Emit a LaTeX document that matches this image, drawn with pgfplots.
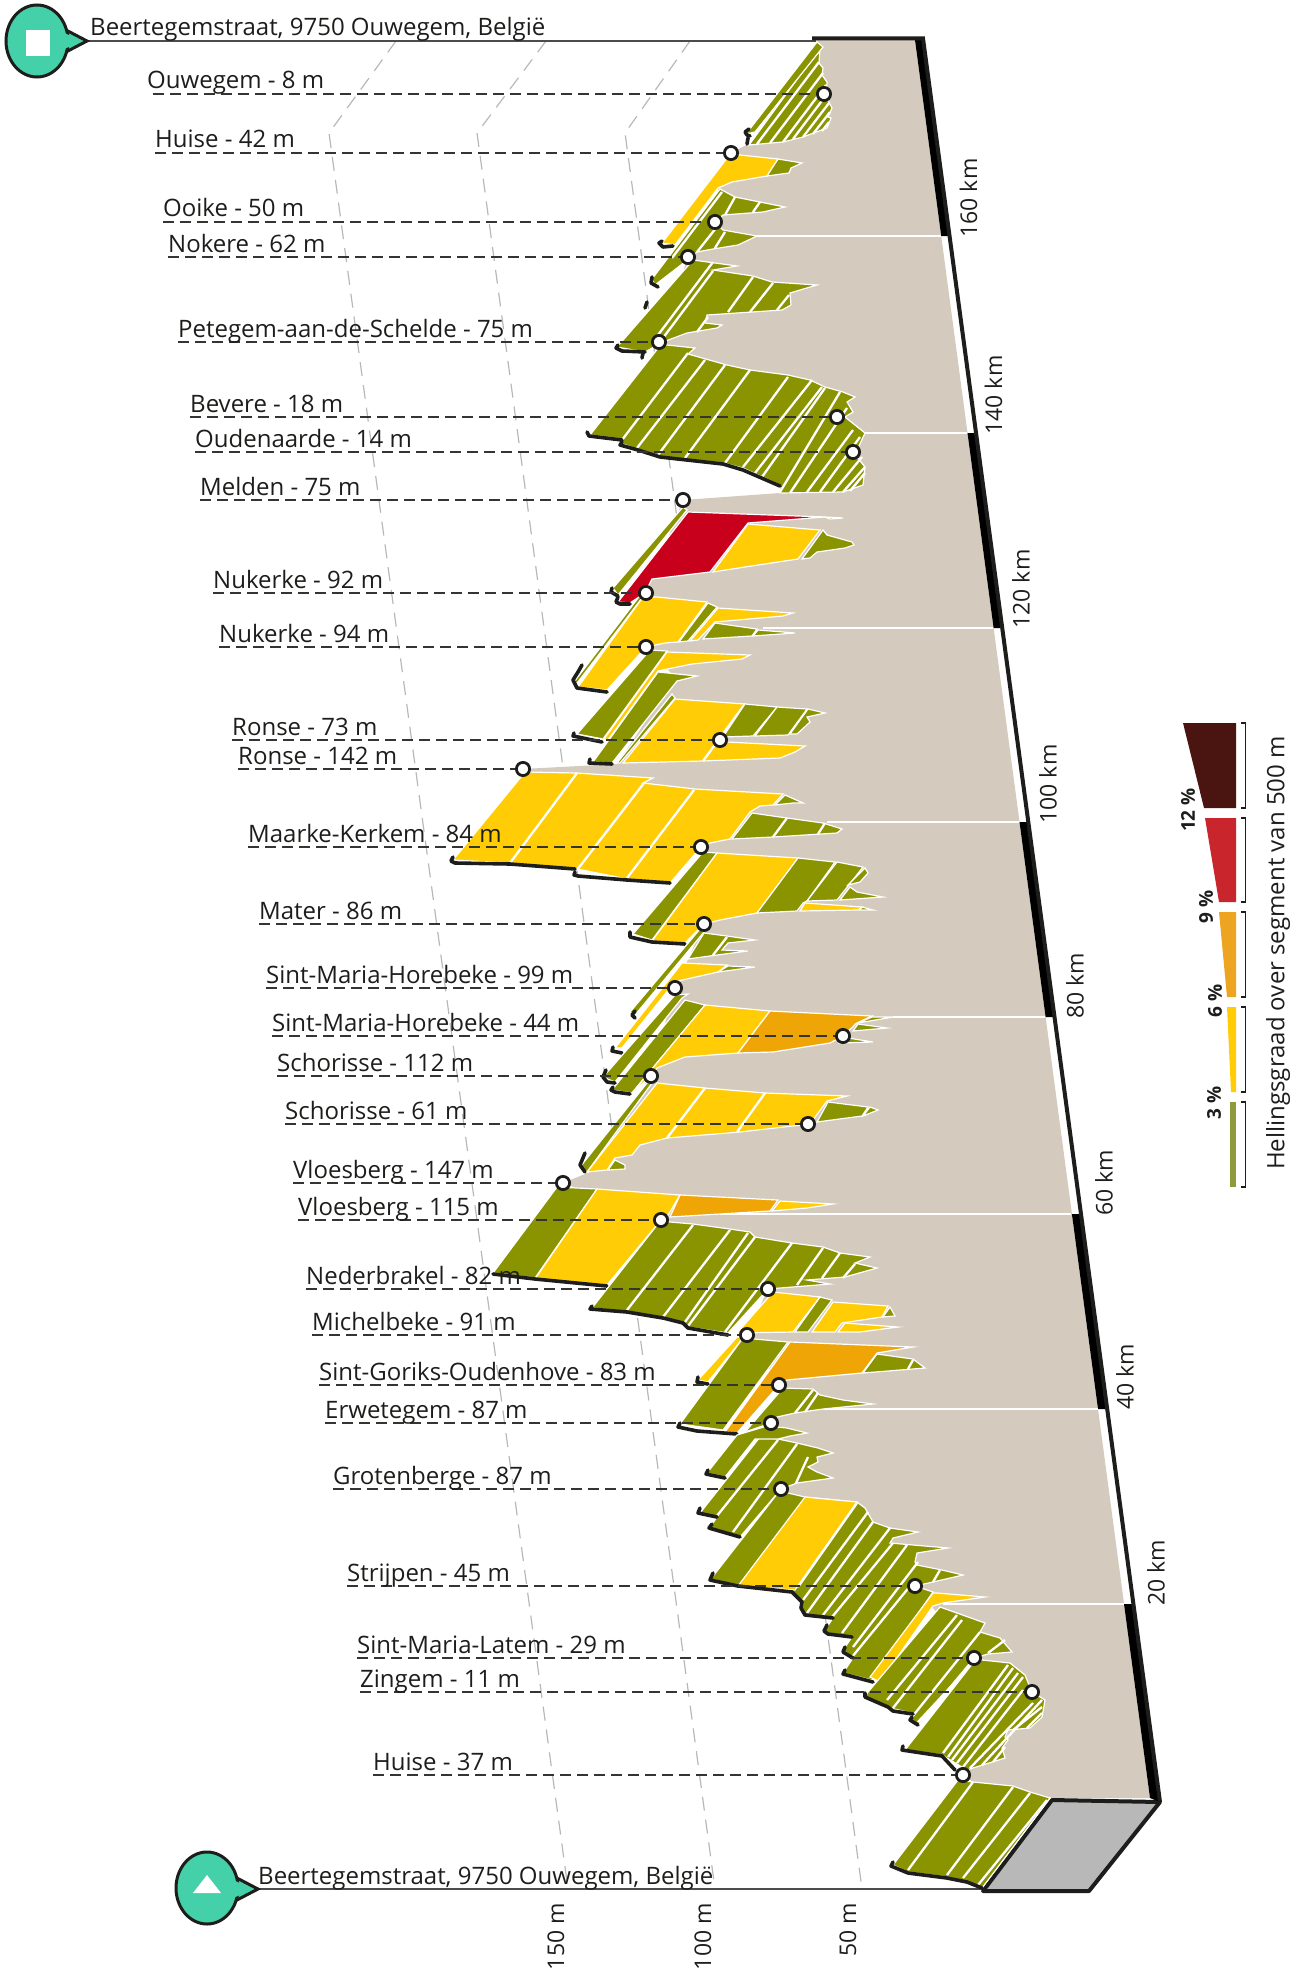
\documentclass[border=0pt]{standalone}
\usepackage{pgfplots}
\usepackage{fontspec}
\setmainfont{Open Sans}
\pgfplotsset{compat=1.18}
\definecolor{ol}{HTML}{8A9400}
\definecolor{ye}{HTML}{FFCC05}
\definecolor{ora}{HTML}{F0A507}
\definecolor{rd}{HTML}{C8001B}
\definecolor{beige}{HTML}{D4CABE}
\definecolor{teal2}{HTML}{44D0A8}
\definecolor{ink}{HTML}{1D1D1B}
\definecolor{lgdark}{HTML}{4A1410}
\definecolor{lgred}{HTML}{C9252C}
\definecolor{lgora}{HTML}{EDA421}
\definecolor{lgol}{HTML}{8F9A3A}
\newcommand{\pg}[2]{\addplot[fill=#1,draw=white,line width=1.2pt] coordinates {#2} -- cycle;}
\newcommand{\wl}[1]{\addplot[white,line width=2.3pt] coordinates {#1};}
\newcommand{\bk}[1]{\addplot[ink,line width=3.6pt,line cap=round,line join=round] coordinates {#1};}
\newcommand{\lab}[4]{\addplot[ink!90,line width=1.6pt,dash pattern=on 11pt off 6pt] coordinates {(#1,#2)(#3,#2)};
  \node[anchor=base west,font=\labelfont,yshift=5pt,inner sep=0pt,text=ink] at (axis cs:#1,#2) {#4};}
\newcommand{\labelfont}{\fontsize{24}{27}\selectfont}
\newcommand{\rotfont}{\fontsize{23}{26}\selectfont}
\newcommand{\kmlab}[3]{\node[rotate=90,font=\rotfont,text=ink,inner sep=0pt] at (axis cs:#1,#2) {#3};}
\begin{document}
\begin{tikzpicture}
\path[use as bounding box] (0,0) rectangle (1306pt,1972pt);
\begin{axis}[at={(0,0)},anchor=south west,scale only axis,width=1306pt,height=1972pt,
  xmin=0,xmax=1306,ymin=0,ymax=1972,y dir=reverse,hide axis,clip=false]
% elevation guide lines
\addplot[black!28,line width=1.2pt,dash pattern=on 14pt off 9pt] coordinates {(396,41)(329,133)(568,1889)};
\addplot[black!28,line width=1.2pt,dash pattern=on 14pt off 9pt] coordinates {(546,41)(477,133)(715,1889)};
\addplot[black!28,line width=1.2pt,dash pattern=on 14pt off 9pt] coordinates {(690,41)(625,133)(862,1889)};
% base lines
\addplot[black!70,line width=1.6pt] coordinates {(85,41)(816,41)};
\addplot[black!70,line width=1.6pt] coordinates {(250,1889)(985,1889)};
% body
\addplot[fill=beige,draw=none] coordinates {(816,40)(915,40)(1150,1798)(1052,1798)(973,1782)(963,1775)(960,1765)(974,1658)(915,1586)(781,1489)(771,1423)(779,1385)(747,1335)(768,1289)(661,1220)(563,1183)(590,1172)(650,1076)(675,988)(704,924)(701,847)(523,769)(617,764)(660,700)(670,672)(646,647)(646,593)(683,500)(780,493)(853,452)(659,342)(688,257)(715,222)(718,188)(731,153)(752,142)(818,45)} -- cycle;
% gray foot
\addplot[fill=black!28,draw=ink,line width=4pt,line join=round] coordinates {(1052,1800)(1160,1802)(1089,1891)(983,1891)} -- cycle;
% km band
\addplot[fill=black,draw=none] coordinates {(915,40)(941.2,236)(949.6,236)(923.3,40)} -- cycle;
\addplot[fill=black,draw=none] coordinates {(967.5,433)(993.6,628)(1002.3,628)(976.1,433)} -- cycle;
\addplot[fill=black,draw=none] coordinates {(1019.5,822)(1045.6,1017)(1054.5,1017)(1028.3,822)} -- cycle;
\addplot[fill=black,draw=none] coordinates {(1071.9,1214)(1098,1409)(1107.2,1409)(1081,1214)} -- cycle;
\addplot[fill=black,draw=none] coordinates {(1124,1604)(1150,1798)(1160,1802)(1133.4,1604)} -- cycle;
\addplot[ink,line width=4pt] coordinates {(812,38.5)(923,38.5)(1160,1802)};
% km white lines
\wl{(757,236)(941,236)}
\wl{(865,433)(967,433)}
\wl{(763,628)(993,628)}
\wl{(827,822)(1019,822)}
\wl{(893,1017)(1045,1017)}
\wl{(720,1214)(1071,1214)}
\wl{(823,1409)(1098,1409)}
\wl{(943,1604)(1124,1604)}
% ridge A
\pg{ol}{(820,48)(819,63)(823,68)(822,75)(827,82)(826,97)(832,108)(828,117)(831,118)(827,128)(803,137)(783,142)(749,145)}
\wl{(757,144)(819,62)}\wl{(770,143)(823,73)}\wl{(783,142)(826,85)}\wl{(793,139)(827,94)}\wl{(803,137)(829,103)}\wl{(813,134)(830,112)}\wl{(822,131)(829,122)}
\pg{ol}{(817,42)(823,47)(755,132)(746,134)}
\bk{(749,129)(745,132)(747,135)(750,136)}\bk{(748,138)(747,144)}
% ridge B
\pg{ye}{(731,153)(740,155)(778,159)(767,176)(732,182)(718,188)(675,245)(662,243)}
\pg{ol}{(778,159)(802,163)(791,168)(789,173)(767,176)}
\bk{(662,241)(659,243)(663,247)(673,246)}
% ridge C
\pg{ol}{(720,189)(735,197)(760,202)(785,207)(763,212)(723,215)(715,222)(723,230)(757,236)(738,245)(713,249)(697,252)(690,258)(655,285)(652,279)}
\wl{(725,215)(735,197)}\wl{(753,212)(760,202)}\wl{(715,248)(725,232)}\wl{(697,252)(720,223)}\wl{(722,192)(672,258)}
\bk{(652,277)(651,283)(658,287)}
% ridge D
\pg{ol}{(693,260)(737,266)(713,270)(753,276)(772,282)(817,285)(790,293)(791,305)(782,310)(707,315)(705,323)(722,325)(717,328)(687,333)(663,342)(645,352)(617,347)}
\wl{(713,262)(652,343)}\wl{(713,271)(663,338)}\wl{(753,277)(728,312)}\wl{(773,283)(750,312)}\wl{(789,295)(777,310)}\wl{(708,317)(697,332)}
\bk{(618,345)(616,348)(622,351)(645,352)}\bk{(647,302)(645,308)}\bk{(643,353)(642,358)}
% ridge E
\pg{ol}{(659,347)(667,345)(695,348)(688,354)(727,365)(750,370)(788,375)(810,380)(825,387)(843,392)(855,397)(847,402)(853,412)(845,417)(865,433)(858,448)(853,452)(865,467)(863,485)(843,492)(780,493)(780,485)(743,468)(723,463)(660,457)(620,443)(622,439)(590,435)}
\wl{(622,440)(688,353)}\wl{(637,448)(705,360)}\wl{(658,455)(725,365)}\wl{(685,458)(750,370)}\wl{(725,463)(788,377)}\wl{(743,467)(812,380)}\wl{(755,473)(822,387)}\wl{(762,477)(825,388)}\wl{(780,492)(840,392)}\wl{(790,493)(847,408)}\wl{(807,492)(853,430)}\wl{(820,492)(860,437)}\wl{(833,492)(862,457)}\wl{(843,492)(865,467)}\wl{(850,491)(865,473)}
\bk{(587,432)(589,436)(622,440)}\bk{(622,442)(620,445)(638,450)(660,457)(723,464)(743,470)(780,486)}
% ridge F
\pg{ol}{(683,507)(687,510)(618,595)(613,588)}
\pg{rd}{(688,512)(825,517)(748,523)(710,572)(652,579)(645,593)(630,603)(618,602)}
\pg{ol}{(825,517)(843,518)(830,519)}
\pg{ye}{(748,524)(820,530)(798,559)(745,567)(713,572)}
\pg{ol}{(823,530)(827,535)(852,542)(854,545)(845,548)(817,552)(810,558)(802,559)}
\bk{(612,588)(611,592)(618,596)}\bk{(618,597)(616,602)(620,604)(630,604)}
% ridge G
\pg{ye}{(643,597)(657,597)(707,602)(678,642)(665,643)(646,647)(607,690)(578,687)}
\pg{ol}{(708,603)(717,607)(688,641)(679,642)}
\pg{ye}{(718,608)(793,613)(783,616)(715,622)(698,640)(690,641)}
\pg{ol}{(715,623)(757,629)(752,636)(703,639)}
\pg{ol}{(758,630)(795,633)(753,636)}
\addplot[ol,line width=1.6pt] coordinates {(640,598)(576,682)};
\bk{(582,665)(578,672)(573,680)(577,688)(607,692)}
% ridge H
\pg{ol}{(650,650)(667,651)(603,739)(577,734)}
\pg{ye}{(667,652)(750,655)(742,659)(692,664)(658,671)(608,740)(604,739)}
\bk{(574,733)(573,736)(578,737)(602,742)}
% ridge I
\pg{ol}{(658,672)(697,676)(677,681)(612,763)(593,762)}
\bk{(590,759)(589,763)(612,764)}
% ridge J
\pg{ol}{(672,694)(675,698)(620,763)(617,763)}
\pg{ye}{(675,699)(745,704)(722,737)(720,740)(727,742)(805,746)(795,752)(780,758)(703,761)(623,763)}
\wl{(745,704)(703,761)}
\pg{ol}{(745,704)(777,707)(753,736)(723,737)}
\pg{ol}{(777,707)(807,709)(788,735)(755,736)}
\pg{ol}{(808,709)(825,713)(807,717)(810,722)(797,734)(790,734)}
% ridge K
\pg{ye}{(525,772)(577,773)(653,778)(643,783)(695,789)(783,794)(773,805)(760,806)(750,812)(730,839)(710,843)(701,847)(670,883)(627,879)(577,869)(510,863)(453,860)}
\wl{(577,773)(510,863)}\wl{(644,783)(577,870)}\wl{(694,790)(627,878)}
\pg{ol}{(785,795)(794,799)(803,803)(793,803)(775,805)}
\pg{ol}{(752,813)(787,818)(823,823)(842,829)(837,833)(773,837)(732,839)}
\wl{(787,818)(773,837)}\wl{(825,823)(818,834)}
\bk{(453,857)(451,861)(455,863)(510,864)(575,869)}\bk{(575,872)(574,875)(578,876)(627,880)(670,883)}
% ridge L
\pg{ol}{(703,852)(717,853)(652,940)(633,934)}
\pg{ye}{(717,853)(798,858)(757,913)(720,920)(704,924)(685,943)(652,941)}
\pg{ol}{(798,858)(835,862)(807,901)(803,903)(797,911)(757,913)}
\pg{ol}{(837,862)(863,867)(837,900)(807,901)}
\pg{ol}{(865,868)(868,873)(860,882)(848,885)}
\pg{ol}{(850,887)(857,892)(883,897)(840,900)}
\pg{ye}{(805,903)(862,907)(858,910)(800,911)}
\pg{ol}{(862,907)(873,910)(860,910)}
\bk{(630,932)(630,937)(652,942)(685,944)}
% ridge M
\pg{ol}{(700,929)(704,932)(635,1015)(630,1012)}
\pg{ol}{(704,933)(727,936)(755,940)(728,943)(722,950)(748,951)(717,955)(688,959)}
\wl{(727,937)(713,955)}
\pg{ye}{(682,963)(727,965)(718,972)(678,981)(670,988)(622,1048)(615,1048)}
\pg{ol}{(728,966)(755,967)(718,972)}
\bk{(635,1011)(632,1015)(635,1018)}\bk{(613,1047)(612,1051)(622,1053)}
% ridge N
\pg{ol}{(675,995)(688,994)(682,998)(615,1082)(603,1077)}
\pg{ol}{(685,1000)(705,1005)(632,1093)(612,1090)}
\pg{ye}{(705,1005)(770,1011)(738,1053)(685,1057)(657,1068)(651,1076)(632,1093)}
\pg{ora}{(770,1011)(872,1016)(857,1023)(843,1036)(830,1043)(773,1052)(738,1053)}
\pg{ol}{(872,1017)(893,1017)(858,1023)}
\pg{ol}{(858,1024)(887,1028)(853,1031)}
\pg{ol}{(848,1038)(873,1042)(840,1043)}
\bk{(606,1070)(603,1077)(607,1082)(615,1083)}\bk{(613,1087)(611,1090)(615,1092)(630,1094)}
% ridge O
\pg{ol}{(647,1083)(652,1083)(587,1172)(580,1167)}
\pg{ye}{(657,1083)(705,1088)(765,1093)(847,1096)(827,1101)(810,1124)(740,1132)(667,1138)(640,1145)(632,1155)(615,1158)(607,1170)(587,1172)}
\wl{(705,1088)(667,1138)}\wl{(765,1093)(737,1132)}
\pg{ol}{(828,1102)(868,1107)(862,1116)(817,1122)}
\pg{ol}{(870,1107)(878,1110)(863,1116)}
\pg{ol}{(615,1160)(625,1165)(625,1169)(608,1170)}
\bk{(585,1153)(580,1165)(585,1172)}
% ridge P
\pg{ol}{(557,1187)(597,1189)(535,1278)(493,1273)}
\pg{ye}{(597,1189)(680,1195)(667,1217)(661,1220)(607,1285)(535,1279)}
\pg{ora}{(680,1195)(778,1200)(770,1211)(670,1217)}
\pg{ye}{(780,1201)(833,1204)(807,1208)(772,1211)}
\bk{(493,1274)(535,1279)(607,1286)}
% ridge Q
\pg{ol}{(661,1220)(670,1222)(693,1224)(730,1229)(750,1232)(755,1237)(792,1243)(823,1247)(840,1253)(870,1257)(855,1263)(877,1268)(845,1277)(807,1280)(830,1284)(780,1288)(768,1289)(728,1333)(687,1327)(663,1318)(627,1312)(592,1308)}
\wl{(693,1225)(627,1310)}\wl{(730,1230)(663,1317)}\wl{(748,1233)(685,1322)}\wl{(755,1237)(688,1326)}\wl{(792,1243)(725,1332)}\wl{(823,1248)(797,1285)}\wl{(840,1253)(822,1278)}\wl{(855,1264)(843,1278)}
\bk{(592,1306)(590,1309)(627,1312)(663,1318)(683,1323)(688,1328)(728,1335)}
% ridge R
\pg{ye}{(773,1292)(820,1297)(793,1332)(737,1333)}
\pg{ol}{(820,1297)(832,1300)(808,1332)(795,1332)}
\pg{ye}{(833,1302)(888,1306)(882,1317)(842,1323)(835,1332)(812,1332)}
\pg{ye}{(845,1323)(898,1327)(860,1332)(838,1332)}
\pg{ol}{(890,1307)(895,1316)(883,1317)}
% ridge S
\pg{ye}{(737,1337)(743,1338)(708,1382)(698,1380)}
\pg{ol}{(743,1338)(788,1342)(723,1430)(680,1424)}
\pg{ora}{(790,1342)(913,1347)(877,1353)(862,1373)(787,1380)(779,1385)(737,1433)(725,1432)}
\pg{ol}{(877,1354)(913,1359)(925,1368)(863,1373)}
\wl{(913,1360)(908,1369)}
\bk{(698,1377)(697,1382)(708,1384)}\bk{(680,1423)(678,1427)(697,1431)(737,1434)}
% ridge T
\pg{ol}{(783,1388)(813,1389)(820,1395)(843,1400)(873,1404)(823,1409)(795,1413)(777,1417)(771,1423)(745,1432)}
\wl{(813,1390)(795,1413)}\wl{(818,1393)(805,1412)}
% ridge V
\pg{ol}{(778,1439)(797,1443)(818,1448)(833,1453)(817,1457)(818,1462)(808,1467)(817,1472)(833,1478)(797,1483)(781,1489)(740,1537)(710,1528)(713,1523)(717,1517)(700,1513)(760,1437)}
\wl{(716,1517)(778,1440)}\wl{(733,1532)(797,1444)}\wl{(808,1457)(796,1483)}
\bk{(700,1508)(698,1513)(717,1517)}\bk{(712,1524)(709,1528)(740,1537)}
% ridge U
\pg{ol}{(737,1435)(767,1426)(787,1428)(807,1433)(790,1436)(778,1439)(755,1439)(725,1477)(707,1473)}
\bk{(708,1470)(706,1474)(725,1478)}
% ridge W
\pg{ol}{(781,1489)(788,1493)(805,1497)(857,1502)(865,1508)(873,1522)(890,1528)(918,1532)(893,1538)(890,1543)(948,1548)(917,1553)(915,1562)(917,1565)(942,1570)(963,1575)(933,1582)(915,1586)(933,1592)(872,1680)(843,1673)(853,1658)(843,1650)(852,1637)(827,1633)(825,1630)(833,1618)(805,1615)(802,1610)(803,1603)(792,1592)(738,1586)(710,1580)}
\pg{ye}{(805,1497)(857,1502)(795,1590)(738,1586)}
\wl{(798,1587)(857,1503)}\wl{(803,1600)(868,1512)}\wl{(807,1613)(873,1522)}\wl{(823,1615)(890,1528)}\wl{(832,1617)(893,1543)}\wl{(842,1633)(907,1545)}\wl{(853,1647)(918,1562)}\wl{(852,1657)(915,1580)}\wl{(940,1570)(933,1582)}
\pg{ye}{(933,1593)(937,1593)(985,1597)(943,1603)(933,1606)(880,1682)(870,1677)}
\bk{(713,1573)(710,1580)(738,1586)(792,1592)(802,1602)(801,1608)(805,1615)(833,1618)}\bk{(827,1625)(824,1631)(828,1634)(852,1637)}\bk{(845,1647)(843,1652)(853,1658)}\bk{(845,1670)(843,1674)(873,1682)}
% ridge X
\pg{ol}{(940,1607)(985,1623)(980,1632)(1000,1638)(1012,1652)(988,1654)(974,1658)(918,1725)(910,1718)(912,1713)(890,1708)(865,1697)(868,1692)}
\wl{(887,1700)(957,1615)}\wl{(893,1708)(962,1620)}\wl{(912,1717)(980,1632)}\wl{(918,1722)(973,1663)}\wl{(988,1653)(1005,1640)}
\bk{(865,1693)(865,1697)(888,1707)(893,1711)(913,1714)}\bk{(912,1717)(910,1720)(918,1725)}
% ridge Y
\pg{ol}{(973,1663)(982,1660)(1010,1663)(1025,1675)(1032,1692)(1045,1700)(1042,1717)(1030,1728)(1008,1730)(1005,1737)(1008,1740)(1002,1748)(1005,1758)(973,1768)(967,1770)(942,1755)(905,1750)}
\wl{(943,1753)(1008,1665)}\wl{(948,1757)(1013,1668)}\wl{(952,1760)(1018,1673)}\wl{(957,1763)(1023,1677)}\wl{(963,1767)(1023,1690)}\wl{(970,1768)(1033,1703)}\wl{(982,1765)(1042,1700)}\wl{(993,1762)(1005,1747)}\wl{(1013,1730)(1042,1707)}\wl{(1027,1728)(1042,1713)}
\bk{(903,1746)(902,1750)(942,1756)(955,1770)}
% ridge Z
\pg{ol}{(958,1780)(973,1782)(1013,1786)(1030,1792)(1050,1798)(982,1888)(967,1882)(947,1877)(908,1872)(893,1865)}
\wl{(973,1782)(908,1870)}\wl{(1013,1787)(947,1875)}\wl{(1030,1793)(963,1878)}\wl{(1047,1800)(978,1885)}
\bk{(893,1862)(891,1866)(908,1873)(947,1878)(967,1882)(982,1888)}
% labels and leaders
\lab{153}{94}{824}{\hspace{-6pt}Ouwegem - 8 m}
\lab{155}{153}{731}{Huise - 42 m}
\lab{163}{222}{715}{Ooike - 50 m}
\lab{168}{257}{688}{Nokere - 62 m}
\lab{178}{342}{659}{Petegem-aan-de-Schelde - 75 m}
\lab{190}{417}{837}{Bevere - 18 m}
\lab{195}{452}{853}{Oudenaarde - 14 m}
\lab{200}{500}{683}{Melden - 75 m}
\lab{213}{593}{646}{Nukerke - 92 m}
\lab{219}{647}{646}{Nukerke - 94 m}
\lab{232}{740}{720}{Ronse - 73 m}
\lab{238}{769}{523}{Ronse - 142 m}
\lab{248}{847}{701}{Maarke-Kerkem - 84 m}
\lab{259}{924}{704}{Mater - 86 m}
\lab{266}{988}{675}{Sint-Maria-Horebeke - 99 m}
\lab{272}{1036}{843}{Sint-Maria-Horebeke - 44 m}
\lab{277}{1076}{651}{Schorisse - 112 m}
\lab{285}{1124}{808}{Schorisse - 61 m}
\lab{293}{1183}{563}{Vloesberg - 147 m}
\lab{298}{1220}{661}{Vloesberg - 115 m}
\lab{306}{1289}{768}{Nederbrakel - 82 m}
\lab{312}{1335}{747}{Michelbeke - 91 m}
\lab{319}{1385}{779}{Sint-Goriks-Oudenhove - 83 m}
\lab{325}{1423}{771}{Erwetegem - 87 m}
\lab{333}{1489}{781}{Grotenberge - 87 m}
\lab{347}{1586}{915}{Strijpen - 45 m}
\lab{357}{1658}{974}{Sint-Maria-Latem - 29 m}
\lab{360}{1692}{1032}{Zingem - 11 m}
\lab{373}{1775}{963}{Huise - 37 m}
\addplot[only marks,mark=*,mark size=6.6pt,mark options={fill=white,draw=ink,line width=2.8pt}] coordinates {(824,94)(731,153)(715,222)(688,257)(659,342)(837,417)(853,452)(683,500)(646,593)(646,647)(720,740)(523,769)(701,847)(704,924)(675,988)(843,1036)(651,1076)(808,1124)(563,1183)(661,1220)(768,1289)(747,1335)(779,1385)(771,1423)(781,1489)(915,1586)(974,1658)(1032,1692)(963,1775)};
% start and end text
\node[anchor=base west,font=\labelfont,yshift=5pt,inner sep=0pt,text=ink] at (axis cs:90,41) {Beertegemstraat, 9750 Ouwegem, België};
\node[anchor=base west,font=\labelfont,yshift=5pt,inner sep=0pt,text=ink] at (axis cs:258,1889) {Beertegemstraat, 9750 Ouwegem, België};
% pins
\draw[fill=teal2,draw=ink,line width=3pt,line join=miter] (axis cs:64,29)--(axis cs:87,41)--(axis cs:64,53)--cycle;
\draw[fill=teal2,draw=ink,line width=3pt] (axis cs:37,41) ellipse [x radius=31pt,y radius=36pt];
\fill[teal2] (axis cs:60,31)--(axis cs:82,41)--(axis cs:60,51)--cycle;
\fill[white] (axis cs:25.5,30) rectangle (axis cs:50,56);
\draw[fill=teal2,draw=ink,line width=3pt,line join=miter] (axis cs:235,1877)--(axis cs:258,1889)--(axis cs:235,1901)--cycle;
\draw[fill=teal2,draw=ink,line width=3pt] (axis cs:207,1888) ellipse [x radius=31pt,y radius=36pt];
\fill[teal2] (axis cs:231,1879)--(axis cs:253,1889)--(axis cs:231,1899)--cycle;
\fill[white] (axis cs:193,1893)--(axis cs:221,1893)--(axis cs:207,1875)--cycle;
% km labels
\kmlab{968.5}{198}{160 km}
\kmlab{993.5}{395}{140 km}
\kmlab{1021}{589}{120 km}
\kmlab{1048}{784}{100 km}
\kmlab{1075}{986}{80 km}
\kmlab{1104}{1183}{60 km}
\kmlab{1125}{1377}{40 km}
\kmlab{1156}{1573}{20 km}
% elevation labels
\node[rotate=90,anchor=east,font=\rotfont,text=ink,inner sep=0pt] at (axis cs:556,1903) {150 m};
\node[rotate=90,anchor=east,font=\rotfont,text=ink,inner sep=0pt] at (axis cs:703,1903) {100 m};
\node[rotate=90,anchor=east,font=\rotfont,text=ink,inner sep=0pt] at (axis cs:848,1903) {50 m};
% slope legend
\addplot[fill=lgdark,draw=none] coordinates {(1183,723)(1236,723)(1236,808)(1204,808)} -- cycle;
\addplot[fill=lgred,draw=none] coordinates {(1205,818)(1236,818)(1236,902)(1219,902)} -- cycle;
\addplot[fill=lgora,draw=none] coordinates {(1219,912)(1236,912)(1236,997)(1227,997)} -- cycle;
\addplot[fill=ye,draw=none] coordinates {(1227,1007)(1236,1007)(1236,1092)(1231,1092)} -- cycle;
\addplot[fill=lgol,draw=none] coordinates {(1230,1102)(1236,1102)(1236,1187)(1230,1187)} -- cycle;
\addplot[ink,line width=1.5pt] coordinates {(1241,723)(1245.5,723)(1245.5,808)(1241,808)};
\addplot[ink,line width=1.5pt] coordinates {(1241,818)(1245.5,818)(1245.5,902)(1241,902)};
\addplot[ink,line width=1.5pt] coordinates {(1241,912)(1245.5,912)(1245.5,997)(1241,997)};
\addplot[ink,line width=1.5pt] coordinates {(1241,1007)(1245.5,1007)(1245.5,1092)(1241,1092)};
\addplot[ink,line width=1.5pt] coordinates {(1241,1102)(1245.5,1102)(1245.5,1187)(1241,1187)};
\node[rotate=90,font=\fontsize{19}{21}\selectfont\bfseries,text=ink,inner sep=0pt] at (axis cs:1188,810) {12 \%};
\node[rotate=90,font=\fontsize{19}{21}\selectfont\bfseries,text=ink,inner sep=0pt] at (axis cs:1206,907) {9 \%};
\node[rotate=90,font=\fontsize{19}{21}\selectfont\bfseries,text=ink,inner sep=0pt] at (axis cs:1215,1001) {6 \%};
\node[rotate=90,font=\fontsize{19}{21}\selectfont\bfseries,text=ink,inner sep=0pt] at (axis cs:1214,1103) {3 \%};
\node[rotate=90,font=\fontsize{24}{26}\selectfont,text=ink,inner sep=0pt] at (axis cs:1278,953) {Hellingsgraad over segment van 500 m};
\end{axis}
\end{tikzpicture}
\end{document}
